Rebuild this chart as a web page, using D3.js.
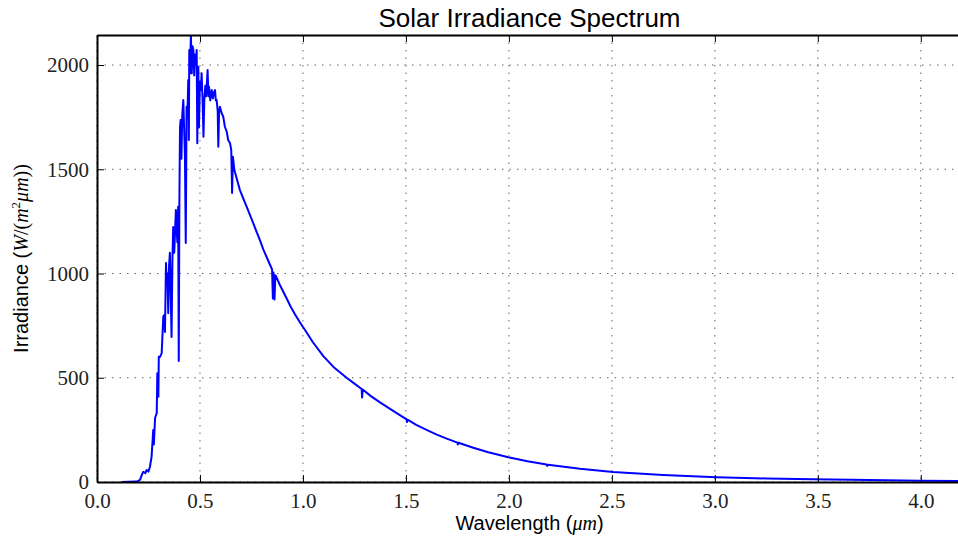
<!DOCTYPE html>
<html>
<head>
<meta charset="utf-8">
<script src="https://cdn.jsdelivr.net/npm/d3@7"></script>
<style>
  body { margin: 0; background: #fff; }
  svg { display: block; }
</style>
</head>
<body>
<div id="chart"></div>
<script>
var chart_width = 958;
var chart_height = 539;

// Wavelength (um) and irradiance (W/(m^2 um))
var wavelength = [
	0.120, 0.190, 0.200, 0.209, 0.220, 0.225, 0.235, 0.241, 0.250, 0.257,
	0.265, 0.273, 0.276, 0.282, 0.290, 0.293, 0.298, 0.300, 0.306, 0.314,
	0.319, 0.322, 0.325, 0.330, 0.335, 0.338, 0.342, 0.346, 0.350, 0.354,
	0.358, 0.362, 0.366, 0.370, 0.375, 0.383, 0.390, 0.394, 0.397, 0.400,
	0.403, 0.406, 0.410, 0.414, 0.419, 0.423, 0.427, 0.431, 0.435, 0.439,
	0.443, 0.446, 0.448, 0.451, 0.456, 0.460, 0.464, 0.468, 0.472, 0.476,
	0.480, 0.484, 0.487, 0.490, 0.492, 0.495, 0.500, 0.504, 0.508, 0.512,
	0.517, 0.521, 0.526, 0.530, 0.537, 0.541, 0.544, 0.550, 0.557, 0.563,
	0.568, 0.573, 0.577, 0.581, 0.586, 0.589, 0.593, 0.597, 0.605, 0.613,
	0.621, 0.630, 0.637, 0.646, 0.652, 0.656, 0.660, 0.667, 0.680, 0.694,
	0.710, 0.727, 0.743, 0.759, 0.775, 0.791, 0.808, 0.824, 0.840, 0.850,
	0.854, 0.857, 0.862, 0.866, 0.870, 0.888, 0.921, 0.940, 0.961, 0.985,
	1.010, 1.050, 1.099, 1.148, 1.212, 1.250, 1.285, 1.287, 1.290, 1.330,
	1.374, 1.440, 1.503, 1.505, 1.510, 1.550, 1.600, 1.650, 1.698, 1.750,
	1.752, 1.755, 1.827, 1.900, 1.997, 2.090, 2.183, 2.186, 2.190, 2.345,
	2.506, 2.749, 3.008, 3.250, 3.477, 3.750, 3.995, 4.200
];
var irradiance = [
	0, 2, 5, 10, 40, 49, 42, 58, 50, 73,
	121, 249, 180, 307, 330, 522, 409, 601, 600, 617,
	729, 793, 800, 720, 1050, 970, 1000, 810, 1040, 1100,
	900, 695, 1050, 1223, 1100, 1305, 1150, 1320, 580, 1338,
	1700, 1736, 1550, 1760, 1832, 1700, 1560, 1146, 1800, 1750,
	1928, 1640, 2072, 1960, 2144, 1960, 2090, 2072, 1950, 2050,
	2000, 2072, 1625, 1900, 1992, 1700, 1920, 1880, 1960, 1850,
	1656, 1830, 1900, 1850, 1976, 1850, 1896, 1830, 1880, 1840,
	1870, 1880, 1830, 1832, 1780, 1608, 1780, 1800, 1770, 1752,
	1704, 1680, 1640, 1625, 1590, 1386, 1560, 1496, 1450, 1400,
	1360, 1320, 1280, 1240, 1200, 1160, 1115, 1078, 1042, 1020,
	880, 1005, 875, 992, 985, 945, 880, 842, 805, 766,
	729, 668, 604, 552, 500, 472, 446, 405, 444, 412,
	382, 340, 300, 288, 298, 274, 250, 227, 208, 189,
	180, 188, 164, 143, 119, 100, 84, 77, 83, 63,
	48, 34, 23, 17, 13, 9, 6, 5
];

var x_ticks = [0.0, 0.5, 1.0, 1.5, 2.0, 2.5, 3.0, 3.5, 4.0];
var y_ticks = [0, 500, 1000, 1500, 2000];

var margin = {top: 35, left: 97, bottom: 57, right: -4};
var plot_w = chart_width - margin.left - margin.right;
var plot_h = chart_height - margin.top - margin.bottom;

var xScale = d3.scaleLinear().domain([0, 4.2]).range([0, plot_w]);
var yScale = d3.scaleLinear().domain([0, d3.max(irradiance)]).range([plot_h, 0]);

var svg = d3.select('#chart')
			.append('svg')
			.attr('width', chart_width)
			.attr('height', chart_height);

var g = svg.append('g')
			.attr('transform', 'translate(' + margin.left + ',' + margin.top + ')');

svg.append('defs').append('clipPath')
	.attr('id', 'plotclip')
	.append('rect')
	.attr('x', 0).attr('y', 0)
	.attr('width', plot_w).attr('height', plot_h);

// Grid
g.selectAll('.vgrid')
	.data(x_ticks)
	.enter()
	.append('line')
	.attr('x1', function(d){ return xScale(d); })
	.attr('x2', function(d){ return xScale(d); })
	.attr('y1', 0).attr('y2', plot_h)
	.attr('stroke', '#666')
	.attr('stroke-width', 1)
	.attr('stroke-dasharray', '1.5,6');

g.selectAll('.hgrid')
	.data(y_ticks)
	.enter()
	.append('line')
	.attr('y1', function(d){ return yScale(d); })
	.attr('y2', function(d){ return yScale(d); })
	.attr('x1', 0).attr('x2', plot_w)
	.attr('stroke', '#666')
	.attr('stroke-width', 1)
	.attr('stroke-dasharray', '1.5,6');

// Spectrum line
var points = wavelength.map(function(w, i){ return [w, irradiance[i]]; });
var line = d3.line()
			.x(function(d){ return xScale(d[0]); })
			.y(function(d){ return yScale(d[1]); });

g.append('path')
	.datum(points)
	.attr('clip-path', 'url(#plotclip)')
	.attr('d', line)
	.attr('fill', 'none')
	.attr('stroke', '#0000ff')
	.attr('stroke-width', 2)
	.attr('stroke-linejoin', 'round');

// Axes with inward ticks
var xAxis = d3.axisBottom(xScale).tickValues(x_ticks)
			.tickFormat(d3.format('.1f')).tickSizeInner(-7).tickSizeOuter(0).tickPadding(14);
var yAxis = d3.axisLeft(yScale).tickValues(y_ticks)
			.tickFormat(d3.format('d')).tickSizeInner(-7).tickSizeOuter(0).tickPadding(14);
var xTop = d3.axisTop(xScale).tickValues(x_ticks)
			.tickFormat('').tickSizeInner(-7).tickSizeOuter(0);

var gx = g.append('g').attr('transform', 'translate(0,' + plot_h + ')').call(xAxis);
var gy = g.append('g').call(yAxis);
var gt = g.append('g').call(xTop);

[gx, gy, gt].forEach(function(a){
	a.select('.domain').attr('stroke', '#000').attr('stroke-width', 2);
	a.selectAll('.tick line').attr('stroke', '#000').attr('stroke-width', 1);
	a.selectAll('.tick text')
		.attr('fill', '#222')
		.style('font-family', '"Liberation Serif", serif')
		.style('font-size', '21px');
});
gy.selectAll('.tick text').attr('dx', '6px');
gx.selectAll('.tick text').attr('dy', '0.55em');

// Titles
svg.append('text')
	.attr('x', margin.left + plot_w / 2)
	.attr('y', 27)
	.attr('text-anchor', 'middle')
	.style('font-family', '"Liberation Sans", sans-serif')
	.style('font-size', '26px')
	.attr('fill', '#000')
	.text('Solar Irradiance Spectrum');

var xl = svg.append('text')
	.attr('x', margin.left + plot_w / 2)
	.attr('y', 530)
	.attr('text-anchor', 'middle')
	.style('font-family', '"Liberation Sans", sans-serif')
	.style('font-size', '20px')
	.attr('fill', '#000');
xl.append('tspan').text('Wavelength (');
xl.append('tspan').style('font-family', '"Liberation Serif", serif').style('font-style', 'italic').text('μm');
xl.append('tspan').text(')');

var yl = svg.append('text')
	.attr('transform', 'translate(28,' + (margin.top + plot_h / 2) + ') rotate(-90)')
	.attr('text-anchor', 'middle')
	.style('font-family', '"Liberation Sans", sans-serif')
	.style('font-size', '20px')
	.attr('fill', '#000');
yl.append('tspan').text('Irradiance (');
yl.append('tspan').style('font-family', '"Liberation Serif", serif').style('font-style', 'italic').text('W');
yl.append('tspan').style('font-family', '"Liberation Serif", serif').text('/(');
yl.append('tspan').style('font-family', '"Liberation Serif", serif').style('font-style', 'italic').text('m');
yl.append('tspan').style('font-family', '"Liberation Serif", serif').style('font-size', '13px').attr('dy', '-8').text('2');
yl.append('tspan').style('font-family', '"Liberation Serif", serif').style('font-style', 'italic').attr('dy', '8').text('μm');
yl.append('tspan').style('font-family', '"Liberation Serif", serif').text('))');
</script>
</body>
</html>
